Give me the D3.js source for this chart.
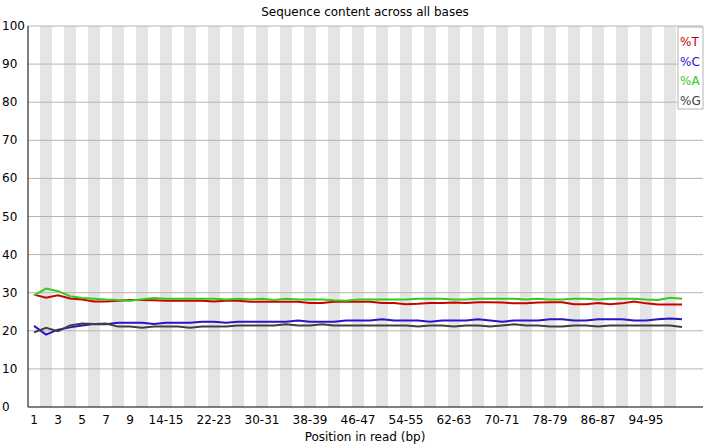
<!DOCTYPE html>
<html><head><meta charset="utf-8">
<script src="https://cdn.jsdelivr.net/npm/d3@7"></script>
<style>body{margin:0;background:#fff}svg{font-family:"DejaVu Sans",Verdana,sans-serif}</style>
</head><body><svg width="720" height="447"></svg>
<script>
// position categories: single bases 1-9, then pairs
const positions = [];
for (let i = 1; i <= 9; i++) positions.push(String(i));
for (let i = 10; i <= 100; i += 2) positions.push(i + "-" + (i + 1));

const pctT = [29.5,28.7,29.3,28.5,28.2,27.7,27.7,27.9,28.1,28.1,28.0,27.9,27.9,27.9,27.9,27.7,27.9,27.9,27.6,27.6,27.6,27.6,27.6,27.3,27.3,27.6,27.6,27.6,27.6,27.3,27.3,27.0,27.1,27.3,27.3,27.4,27.3,27.5,27.5,27.4,27.2,27.2,27.4,27.5,27.5,27.0,27.0,27.3,27.0,27.2,27.7,27.2,26.9,26.9,26.9];
const pctC = [21.3,19.0,20.3,20.9,21.4,21.8,21.7,22.1,22.1,22.1,21.8,22.1,22.1,22.1,22.4,22.4,22.1,22.4,22.4,22.4,22.4,22.4,22.7,22.4,22.4,22.4,22.7,22.7,22.7,23.0,22.7,22.7,22.7,22.4,22.7,22.7,22.7,23.0,22.7,22.4,22.7,22.7,22.7,23.0,23.0,22.7,22.7,23.0,23.0,23.0,22.7,22.7,23.0,23.2,23.0];
const pctA = [29.3,31.1,30.4,29.1,28.6,28.4,28.2,28.1,27.9,28.3,28.6,28.4,28.4,28.4,28.4,28.4,28.2,28.4,28.2,28.4,28.1,28.4,28.2,28.2,28.2,28.0,27.9,28.2,28.2,28.2,28.2,28.2,28.4,28.4,28.4,28.2,28.2,28.4,28.4,28.4,28.4,28.2,28.4,28.2,28.2,28.4,28.4,28.2,28.4,28.4,28.4,28.2,28.1,28.7,28.4];
const pctG = [19.6,20.8,19.9,21.4,21.9,21.8,21.9,21.1,21.1,20.8,21.1,21.1,21.1,20.8,21.1,21.1,21.1,21.4,21.4,21.4,21.4,21.7,21.4,21.4,21.7,21.4,21.4,21.4,21.4,21.4,21.4,21.4,21.1,21.4,21.4,21.1,21.4,21.4,21.1,21.4,21.7,21.4,21.4,21.1,21.1,21.4,21.4,21.1,21.4,21.4,21.4,21.4,21.4,21.4,21.0];
const yTicks = [0,10,20,30,40,50,60,70,80,90,100];
const series = [
  {name:"%T", values:pctT, color:"#cc0000"},
  {name:"%C", values:pctC, color:"#2a14c8"},
  {name:"%A", values:pctA, color:"#33cc1a"},
  {name:"%G", values:pctG, color:"#404040"}
];

const svg = d3.select("svg");
const mLeft = 28, mTop = 26, mBottom = 407, mRight = 703;
const bandW = 12;
const x = d3.scaleBand().domain(positions).range([mLeft, mLeft + bandW * positions.length]);
const y = d3.scaleLinear().domain([0, 100]).range([mBottom, mTop]);

// alternating stripes
svg.selectAll("rect.stripe").data(positions.filter((d, i) => i % 2 === 1))
  .enter().append("rect").attr("x", d => x(d)).attr("y", mTop)
  .attr("width", x.bandwidth()).attr("height", mBottom - mTop).attr("fill", "#e5e5e5");

// grid
svg.selectAll("line.grid").data(yTicks.slice(1)).enter().append("line")
  .attr("x1", mLeft).attr("x2", mRight).attr("y1", d => y(d)).attr("y2", d => y(d))
  .attr("stroke", "#b4b4b4");

// axes lines
svg.append("line").attr("x1", mLeft).attr("x2", mLeft).attr("y1", mTop).attr("y2", mBottom).attr("stroke", "#000");
svg.append("line").attr("x1", mLeft).attr("x2", mRight).attr("y1", mBottom).attr("y2", mBottom).attr("stroke", "#000");

svg.selectAll("text.ylab").data(yTicks).enter().append("text")
  .attr("x", 2).attr("y", d => y(d) + 4).attr("font-size", 12).text(d => d);

const shown = positions.filter((d, i) => i < 9 ? i % 2 === 0 : (i - 11) % 4 === 0 && i >= 11);
svg.selectAll("text.xlab").data(shown).enter().append("text")
  .attr("x", d => x(d) + x.bandwidth() / 2).attr("y", 424).attr("text-anchor", "middle")
  .attr("font-size", 12).text(d => d);

svg.append("text").attr("x", 365).attr("y", 441).attr("text-anchor", "middle").attr("font-size", 12).text("Position in read (bp)");
svg.append("text").attr("x", 365).attr("y", 16).attr("text-anchor", "middle").attr("font-size", 12).text("Sequence content across all bases");

const line = d3.line().x((d, i) => x(positions[i]) + x.bandwidth() / 2).y(d => y(d));
series.forEach(s => {
  svg.append("path").attr("d", line(s.values)).attr("fill", "none").attr("stroke", s.color).attr("stroke-width", 2);
});

// legend
svg.append("rect").attr("x", 678).attr("y", 27).attr("width", 25).attr("height", 82)
  .attr("fill", "#fff").attr("stroke", "#b4b4b4");
series.forEach((s, i) => {
  svg.append("text").attr("x", 680).attr("y", 46 + i * 19.5).attr("font-size", 12)
    .attr("fill", s.color).text(s.name);
});
</script></body></html>
